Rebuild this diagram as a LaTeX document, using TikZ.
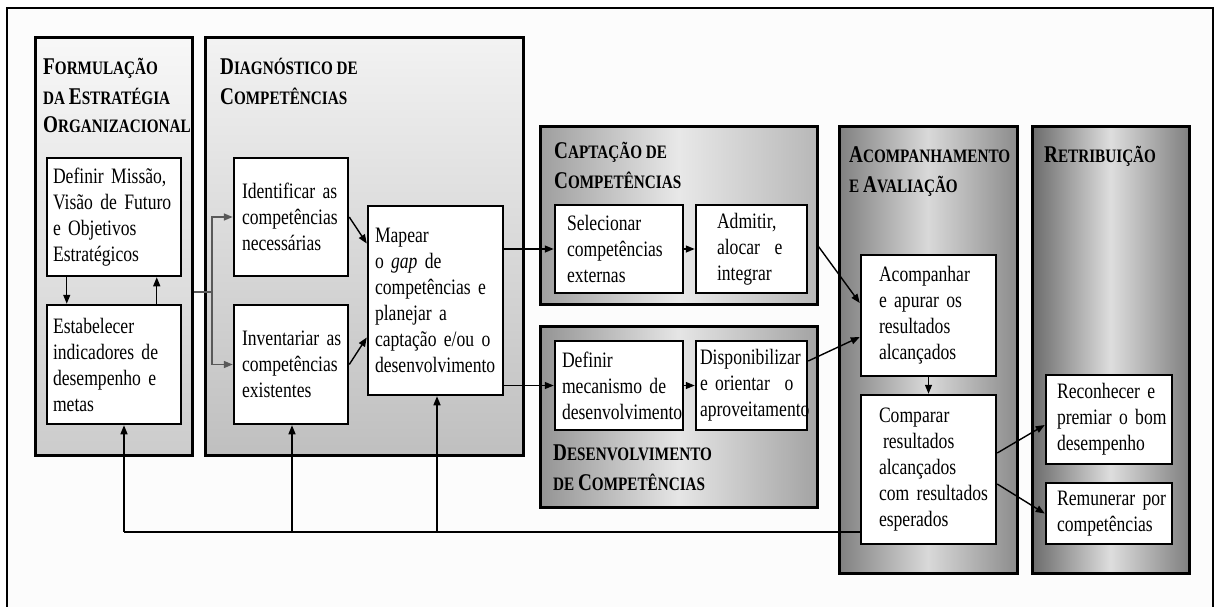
\documentclass[tikz,border=0pt]{standalone}
\usepackage{fontspec}
\setmainfont{Liberation Serif}[FakeStretch=0.8]
\newfontfamily\ttlfont{Liberation Serif}[FakeStretch=0.8]
\usetikzlibrary{arrows.meta}
\newcommand\bodyf{\fontsize{22}{26}\selectfont\hyphenpenalty=10000\exhyphenpenalty=10000}
\newcommand\BigC[1]{{\fontsize{24}{29}\selectfont #1}}
\newcommand\SmC[1]{{\fontsize{19}{29}\selectfont #1}}
\begin{document}
\begin{tikzpicture}[x=1pt,y=-1pt,
  panel/.style={draw=black,line width=3pt,inner sep=0pt},
  box/.style={draw=black,fill=white,line width=2.5pt,inner sep=0pt,align=left,font=\bodyf},
  ttl/.style={anchor=base west,inner sep=0pt,font=\ttlfont\bfseries},
  conn/.style={line width=1.4pt,draw=black},
  arr/.style={conn,-{Triangle[length=9pt,width=7pt]}},
  garr/.style={line width=1.6pt,draw=black!65,-{Triangle[length=9pt,width=7pt]}}
]
\useasboundingbox (0,0) rectangle (1218,607);
\fill[white] (0,0) rectangle (1218,607);
\fill[black!1] (7,8) rectangle (1213,607);
\draw[line width=1.5pt] (7,607) -- (7,8) -- (1213,8) -- (1213,607);

% panels
\node[panel,minimum width=157pt,minimum height=417pt,top color=black!3,bottom color=black!20] (p1) at (113.5,246.5) {};
\node[panel,minimum width=318pt,minimum height=417pt,top color=black!5,bottom color=black!25] (p2) at (364,246.5) {};
\node[panel,minimum width=277pt,minimum height=177pt,left color=black!38,right color=black!28,middle color=black!9] (p3) at (678.5,215.5) {};
\node[panel,minimum width=277pt,minimum height=181pt,left color=black!42,right color=black!36,middle color=black!10] (p4) at (678.5,416.5) {};
\node[panel,minimum width=178pt,minimum height=446pt,left color=black!50,right color=black!45,middle color=black!15] (p5) at (928,350) {};
\node[panel,minimum width=157pt,minimum height=446pt,left color=black!58,right color=black!50,middle color=black!13] (p6) at (1110.5,350) {};

% titles
\node[ttl] (t1a) at (43,75) {\BigC{F}\SmC{ORMULAÇÃO}};
\node[ttl] (t1b) at (43,105) {\SmC{DA }\BigC{E}\SmC{STRATÉGIA}};
\node[ttl] (t1c) at (43,133) {\BigC{O}\SmC{RGANIZACIONAL}};
\node[ttl] (t2a) at (220,75) {\BigC{D}\SmC{IAGNÓSTICO DE}};
\node[ttl] (t2b) at (220,105) {\BigC{C}\SmC{OMPETÊNCIAS}};
\node[ttl] (t3a) at (554,158) {\BigC{C}\SmC{APTAÇÃO DE}};
\node[ttl] (t3b) at (554,188) {\BigC{C}\SmC{OMPETÊNCIAS}};
\node[ttl] (t4a) at (553,460) {\BigC{D}\SmC{ESENVOLVIMENTO}};
\node[ttl] (t4b) at (553,490) {\SmC{DE }\BigC{C}\SmC{OMPETÊNCIAS}};
\node[ttl] (t5a) at (849,163) {\BigC{A}\SmC{COMPANHAMENTO}};
\node[ttl] (t5b) at (849,193) {\SmC{E }\BigC{A}\SmC{VALIAÇÃO}};
\node[ttl] (t6a) at (1044,163) {\BigC{R}\SmC{ETRIBUIÇÃO}};

% boxes
\node[box,minimum width=134pt,minimum height=118pt,text width=122pt] (def) at (114,217)
  {Definir~Missão,\\Visão~de~Futuro\\e~Objetivos\\Estratégicos};
\node[box,minimum width=134pt,minimum height=119pt,text width=122pt] (est) at (114,364.5)
  {Estabelecer\\indicadores~de\\desempenho~e\\metas};
\node[box,minimum width=114pt,minimum height=118pt,text width=98pt] (idf) at (291,217)
  {Identificar~as\\competências\\necessárias};
\node[box,minimum width=114pt,minimum height=119pt,text width=98pt] (inv) at (291,364.5)
  {Inventariar~as\\competências\\existentes};
\node[box,minimum width=135pt,minimum height=189pt,text width=121pt] (map) at (435.5,300.5)
  {Mapear\\o~\textit{gap}~de\\competências~e\\planejar~a\\captação~e/ou~o\\desenvolvimento};
\node[box,minimum width=128pt,minimum height=88pt,text width=104pt] (sel) at (619,249)
  {Selecionar\\competências\\externas};
\node[box,minimum width=111pt,minimum height=88pt,text width=69pt] (adm) at (751.5,249)
  {Admitir,\\alocar~~e\\integrar};
\node[box,minimum width=128pt,minimum height=89pt,text width=114pt] (dmec) at (619,385.5)
  {Definir\\mecanismo~de\\desenvolvimento};
\node[box,minimum width=111pt,minimum height=89pt,text width=103pt] (disp) at (751.5,385.5)
  {Disponibilizar\\e~orientar~~o\\aproveitamento};
\node[box,minimum width=135pt,minimum height=121pt,text width=99pt] (acp) at (928.5,315.5)
  {Acompanhar\\e~apurar~os\\resultados\\alcançados};
\node[box,minimum width=135pt,minimum height=149pt,text width=99pt] (cmp) at (928.5,469.5)
  {Comparar\\\hspace*{4pt}resultados\\alcançados\\com~resultados\\esperados};
\node[box,minimum width=126pt,minimum height=89pt,text width=104pt] (rec) at (1109,419.5)
  {Reconhecer~e\\premiar~o~bom\\desempenho};
\node[box,minimum width=126pt,minimum height=61pt,text width=104pt] (rem) at (1109,513.5)
  {Remunerar~por\\competências};

% connectors
\draw[arr] ([xshift=21pt]def.south west) -- ([xshift=21pt]est.north west);
\draw[arr] ([xshift=111pt]est.north west) -- ([xshift=111pt]def.south west);
\coordinate (br) at (212,292);
\draw[line width=1.6pt,draw=black!65] (p1.east |- br) -- (br);
\draw[garr] (br) |- (idf.west);
\draw[garr] (br) |- (inv.west);
\draw[arr] (idf.east) -- ([yshift=57pt]map.west);
\draw[arr] (inv.east) -- ([yshift=-37pt]map.west);
\draw[arr] (map.east |- sel.west) -- (sel.west);
\draw[arr] (sel.east) -- (adm.west);
\draw[arr] (map.east |- dmec.west) -- (dmec.west);
\draw[arr] (dmec.east) -- (disp.west);
\draw[arr] ([yshift=-31pt]p3.east) -- ([yshift=12.5pt]acp.west);
\draw[arr] ([yshift=24.5pt]disp.east) -- ([yshift=-21.5pt]acp.west);
\draw[arr] (acp.south) -- (cmp.north);
\draw[arr] ([yshift=16.5pt]cmp.east) -- ([yshift=-5.5pt]rec.west);
\draw[arr] ([yshift=-14.5pt]cmp.east) -- (rem.west);
\coordinate (fbL) at (124,532);
\coordinate (fbM) at (292,532);
\coordinate (fbR) at (437,532);
\draw[conn] ([yshift=-62.5pt]cmp.west) -- (fbL);
\draw[arr] (fbL) -- (fbL |- est.south);
\draw[arr] (fbM) -- (fbM |- inv.south);
\draw[arr] (fbR) -- (fbR |- map.south);
\end{tikzpicture}
\end{document}
